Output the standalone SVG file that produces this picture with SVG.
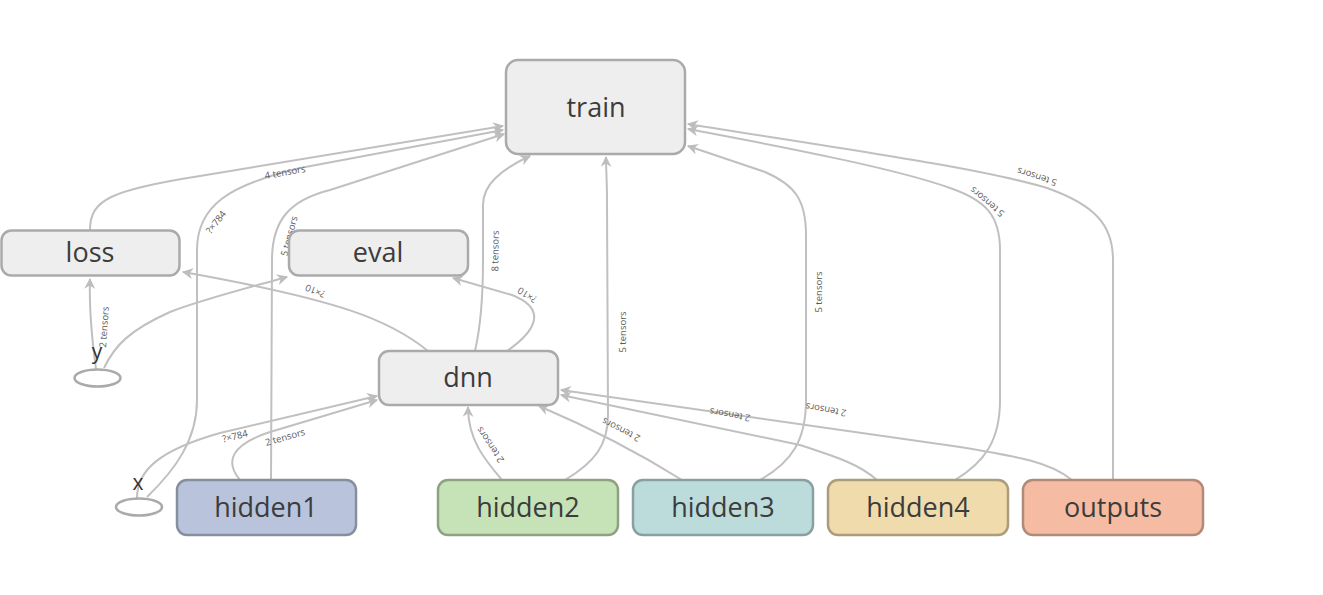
<svg xmlns="http://www.w3.org/2000/svg" width="1323" height="595" viewBox="0 0 1323 595">
<defs>
<marker id="arr" viewBox="0 0 10 10" refX="9" refY="5" markerWidth="12" markerHeight="11" markerUnits="userSpaceOnUse" orient="auto">
<path d="M0,0 L10,5 L0,10 L3,5 Z" fill="#bdbdbd"/>
</marker>
<style>
.e{fill:none;stroke:#c0c0c0;stroke-width:2;marker-end:url(#arr)}
.lb{font-family:"Open Sans","Noto Sans",sans-serif;font-size:9.5px;fill:#5a5a5a;text-anchor:middle;dominant-baseline:central}
.n rect{stroke-width:2.5}
.nt{font-family:"Open Sans","Noto Sans",sans-serif;font-size:27px;fill:#3c3c3c;text-anchor:middle}
.g rect{fill:#eeeeee;stroke:#aaaaaa}
.io{fill:#fff;stroke:#aaaaaa;stroke-width:2.5}
.st{font-family:"Open Sans","Noto Sans",sans-serif;font-size:21px;fill:#333;text-anchor:middle}
</style>
</defs>
<rect width="1323" height="595" fill="#fff"/>
<g id="connectors">
<path class="e" d="M90,230 C90,200 110,190 200,176 L503,126"/>
<path class="e" d="M147,497 C175,470 197,440 197,400 L197,250 C197,205 230,185 300,168 L503,130"/>
<path class="e" d="M271,480 L272,260 C272,220 290,200 330,190 L504,134"/>
<path class="e" d="M137,498 C137,470 160,450 220,433 L377,396"/>
<path class="e" d="M240,480 C225,462 230,445 270,432 L377,400"/>
<path class="e" d="M96,369 C92,340 89,310 90,279"/>
<path class="e" d="M104,368 C115,345 130,330 170,312 C200,300 240,290 287,277"/>
<path class="e" d="M428,351 C390,320 340,300 183,272"/>
<path class="e" d="M507,351 C533,333 550,310 512,295 L453,278"/>
<path class="e" d="M475,351 C481,325 483,300 483,260 L483,205 C483,185 500,170 530,156"/>
<path class="e" d="M502,480 C485,460 468,440 468,407"/>
<path class="e" d="M565,480 C595,462 608,445 608,415 L607,200 C607,180 606,170 606,157"/>
<path class="e" d="M682,480 C650,460 600,432 539,406"/>
<path class="e" d="M760,480 C792,462 806,440 806,400 L806,235 C806,200 795,185 765,172 L688,146"/>
<path class="e" d="M877,480 C860,465 840,458 800,445 L561,395"/>
<path class="e" d="M1072,480 C1050,462 1020,457 960,447 L561,390"/>
<path class="e" d="M955,480 C985,462 1000,440 1000,400 L1000,250 C1000,215 985,200 950,188 C900,170 800,150 688,129"/>
<path class="e" d="M1113,480 L1113,260 C1113,225 1095,205 1047,188 C980,168 850,150 688,124"/>
</g>
<g id="edge-labels">
<text class="lb" transform="translate(285,172) rotate(-10)">4 tensors</text>
<text class="lb" transform="translate(216,222) rotate(-52)">?×784</text>
<text class="lb" transform="translate(289,236) rotate(-75)">5 tensors</text>
<text class="lb" transform="translate(235,436) rotate(-14)">?×784</text>
<text class="lb" transform="translate(285,437) rotate(-16)">2 tensors</text>
<text class="lb" transform="translate(104,327) rotate(-86)">2 tensors</text>
<text class="lb" transform="translate(315,291) rotate(202)">?×10</text>
<text class="lb" transform="translate(527,295) rotate(212)">?×10</text>
<text class="lb" transform="translate(495,251) rotate(-89)">8 tensors</text>
<text class="lb" transform="translate(490,445) rotate(236)">2 tensors</text>
<text class="lb" transform="translate(622,332) rotate(-90)">5 tensors</text>
<text class="lb" transform="translate(621,430) rotate(207)">2 tensors</text>
<text class="lb" transform="translate(818,292) rotate(-90)">5 tensors</text>
<text class="lb" transform="translate(730,415) rotate(190)">2 tensors</text>
<text class="lb" transform="translate(826,410) rotate(190)">2 tensors</text>
<text class="lb" transform="translate(987,202) rotate(220)">5 tensors</text>
<text class="lb" transform="translate(1037,177) rotate(198)">5 tensors</text>
</g>
<g id="train" class="n g"><rect x="506" y="60" width="179" height="94" rx="12"/><text class="nt" x="596" y="117">train</text></g>
<g id="loss" class="n g"><rect x="1.5" y="230.5" width="178" height="45" rx="10"/><text class="nt" x="90" y="262">loss</text></g>
<g id="eval" class="n g"><rect x="289" y="230.5" width="179" height="45" rx="10"/><text class="nt" x="378" y="262">eval</text></g>
<g id="dnn" class="n g"><rect x="379" y="351" width="179" height="54" rx="10"/><text class="nt" x="468" y="387">dnn</text></g>
<g id="hidden1" class="n"><rect x="177" y="480" width="179" height="55" rx="10" fill="#b9c4dc" stroke="#878f9f"/><text class="nt" x="266" y="517">hidden1</text></g>
<g id="hidden2" class="n"><rect x="438" y="480" width="180" height="55" rx="10" fill="#c6e3b8" stroke="#8ea283"/><text class="nt" x="528" y="517">hidden2</text></g>
<g id="hidden3" class="n"><rect x="633" y="480" width="180" height="55" rx="10" fill="#bcdcdc" stroke="#8aa0a0"/><text class="nt" x="723" y="517">hidden3</text></g>
<g id="hidden4" class="n"><rect x="828" y="480" width="180" height="55" rx="10" fill="#f0dbad" stroke="#ab9c7b"/><text class="nt" x="918" y="517">hidden4</text></g>
<g id="outputs" class="n"><rect x="1023" y="480" width="180" height="55" rx="10" fill="#f5bca3" stroke="#b18a7a"/><text class="nt" x="1113" y="517">outputs</text></g>
<g id="y"><ellipse class="io" cx="97.5" cy="378" rx="23" ry="8.5"/><text class="st" x="97" y="359">y</text></g>
<g id="x"><ellipse class="io" cx="139" cy="507" rx="23" ry="8.5"/><text class="st" x="138" y="490">x</text></g>
</svg>
